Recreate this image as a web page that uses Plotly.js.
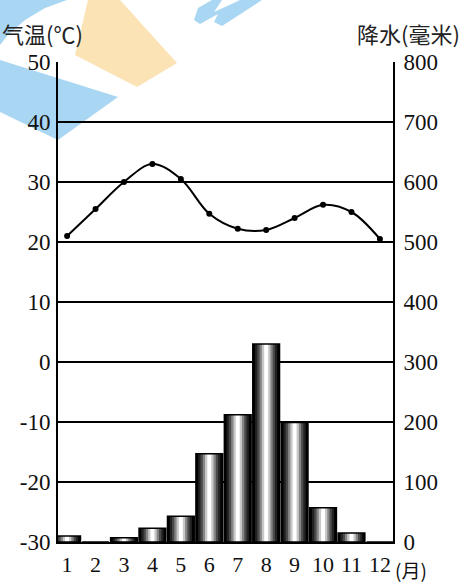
<!DOCTYPE html>
<html>
<head>
<meta charset="utf-8">
<script src="https://cdn.plot.ly/plotly-3.0.1.min.js"></script>
<style>
html,body{margin:0;padding:0;background:#fff;}
#chart{width:467px;height:587px;}
</style>
</head>
<body>
<div id="chart"></div>
<script>
const months = [1,2,3,4,5,6,7,8,9,10,11,12];
const monthLabels = ["1","2","3","4","5","6","7","8","9","10","11","12"];
const temperature = [21, 25.5, 30, 33, 30.5, 24.7, 22.2, 22, 24, 26.2, 25, 20.5];
const precipitation = [10, 0, 7, 23, 43, 147, 212, 330, 199, 57, 15, 0];
const tempTicks = [-30,-20,-10,0,10,20,30,40,50];
const precipTicks = [0,100,200,300,400,500,600,700,800];

const serif = "Liberation Serif, Times New Roman, serif";
const cjk = "Noto Sans CJK SC, sans-serif";

// layered bars to imitate cylinder shading
const layers = [
  {w:0.94, c:"#000000"},
  {w:0.78, c:"#222222"},
  {w:0.62, c:"#4a4a4a"},
  {w:0.46, c:"#858585"},
  {w:0.30, c:"#c8c8c8"},
  {w:0.14, c:"#ffffff"}
];
const traces = layers.map(l => ({
  type:"bar", x:months, y:precipitation, yaxis:"y2",
  width:l.w, marker:{color:l.c, line:{width:0}},
  hoverinfo:"skip", showlegend:false
}));
traces.push({
  type:"bar", x:months, y:precipitation, yaxis:"y2",
  width:0.94, marker:{color:"rgba(0,0,0,0)", line:{color:"#000", width:1.5}},
  showlegend:false
});
traces.push({
  type:"scatter", mode:"lines+markers", x:months, y:temperature, yaxis:"y",
  line:{color:"#000", width:2, shape:"spline", smoothing:1},
  marker:{color:"#000", size:6}, showlegend:false
});

// watermark shapes (paper coordinates)
function P(px, py){ return ((px-58)/335).toFixed(4) + "," + ((542-py)/480).toFixed(4); }
function path(pts){ return "M" + pts.map(p => P(p[0],p[1])).join("L") + "Z"; }
const blue = "rgba(140,200,238,0.75)";
const yellow = "rgba(250,215,150,0.7)";

const layout = {
  width:467, height:587,
  margin:{l:58, r:74, t:62, b:45},
  paper_bgcolor:"#fff", plot_bgcolor:"rgba(0,0,0,0)",
  barmode:"overlay",
  showlegend:false,
  xaxis:{
    range:[0.68,12.46], tickvals:months, ticktext:monthLabels,
    showgrid:false, zeroline:false, showline:true, linecolor:"#000", linewidth:2,
    ticks:"", tickfont:{family:serif, size:22, color:"#111"}, ticklabelstandoff:2
  },
  yaxis:{
    range:[-30,50], tickvals:tempTicks, ticktext:tempTicks.map(String),
    showgrid:true, gridcolor:"#000", gridwidth:1.5, zeroline:false,
    showline:true, linecolor:"#000", linewidth:2, ticks:"",
    tickfont:{family:serif, size:23, color:"#111"}, ticklabelstandoff:1
  },
  yaxis2:{
    range:[0,800], tickvals:precipTicks, ticktext:precipTicks.map(String),
    overlaying:"y", side:"right", showgrid:false, zeroline:false,
    showline:true, linecolor:"#000", linewidth:2, ticks:"",
    tickfont:{family:serif, size:23, color:"#111"}, ticklabelstandoff:4
  },
  shapes:[
    {type:"path", xref:"paper", yref:"paper", layer:"below", line:{width:0}, fillcolor:blue,
     path:path([[0,0],[67,0],[45,8],[25,20],[8,35],[0,45]])},
    {type:"path", xref:"paper", yref:"paper", layer:"below", line:{width:0}, fillcolor:blue,
     path:path([[0,60],[118,97],[58,140],[0,112]])},
    {type:"path", xref:"paper", yref:"paper", layer:"below", line:{width:0}, fillcolor:yellow,
     path:path([[88,0],[120,0],[177,63],[137,87],[75,55]])},
    {type:"path", xref:"paper", yref:"paper", layer:"below", line:{width:0}, fillcolor:blue,
     path:path([[198,8],[212,0],[222,0],[214,12],[236,2],[240,0],[262,0],[222,26],[214,22],[218,14],[200,24],[194,20]])}
  ],
  annotations:[
    {text:"气温(℃)", xref:"paper", yref:"paper", x:-0.173, y:(542-33)/480, xanchor:"left", yanchor:"middle",
     showarrow:false, font:{family:cjk, size:22, color:"#222"}},
    {text:"降水(毫米)", xref:"paper", yref:"paper", x:1.206, y:(542-33)/480, xanchor:"right", yanchor:"middle",
     showarrow:false, font:{family:cjk, size:22, color:"#222"}},
    {text:"(月)", xref:"paper", yref:"paper", x:1.0, y:(542-569)/480, xanchor:"left", yanchor:"middle",
     showarrow:false, font:{family:cjk, size:19, color:"#111"}}
  ]
};

Plotly.newPlot("chart", traces, layout, {displayModeBar:false, staticPlot:true});
</script>
</body>
</html>
